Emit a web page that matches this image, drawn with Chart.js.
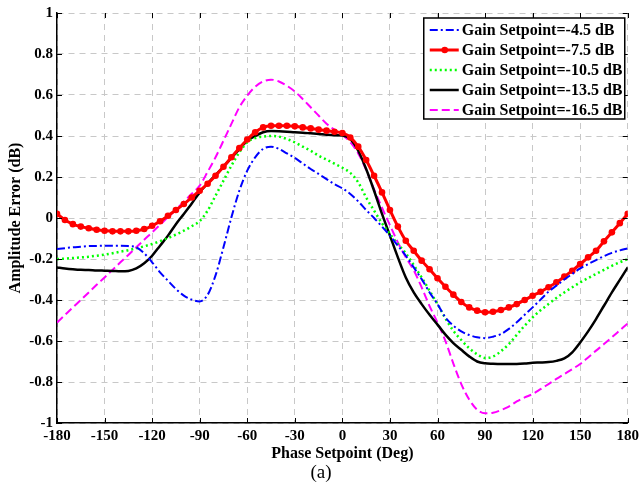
<!DOCTYPE html>
<html>
<head>
<meta charset="utf-8">
<script src="https://cdn.jsdelivr.net/npm/chart.js@4.4.1/dist/chart.umd.min.js"></script>
<style>
    html, body { margin: 0; padding: 0; background: #fff; }
</style>
</head>
<body>
<canvas id="phaseChart" width="643" height="489"></canvas>
<script>
// phase setpoints (deg), one sample every 5 deg
var phase = [-180, -175, -170, -165, -160, -155, -150, -145, -140, -135, -130, -125, -120, -115, -110, -105, -100, -95,
    -90, -85, -80, -75, -70, -65, -60, -55, -50, -45, -40, -35, -30, -25, -20, -15, -10, -5,
    0, 5, 10, 15, 20, 25, 30, 35, 40, 45, 50, 55, 60, 65, 70, 75, 80, 85,
    90, 95, 100, 105, 110, 115, 120, 125, 130, 135, 140, 145, 150, 155, 160, 165, 170, 175, 180];

// amplitude error (dB) per gain setpoint
var gain45 = [-0.151, -0.147, -0.143, -0.14, -0.137, -0.136, -0.135, -0.135, -0.135, -0.137, -0.143, -0.172, -0.216, -0.265, -0.306, -0.346, -0.379, -0.398,
    -0.407, -0.375, -0.28, -0.143, 0.003, 0.133, 0.231, 0.296, 0.337, 0.348, 0.337, 0.315, 0.293, 0.266, 0.239, 0.215, 0.19, 0.165,
    0.145, 0.117, 0.081, 0.039, 0.0, -0.042, -0.086, -0.135, -0.184, -0.241, -0.298, -0.363, -0.42, -0.485, -0.525, -0.553, -0.571, -0.582,
    -0.586, -0.579, -0.566, -0.541, -0.509, -0.472, -0.436, -0.398, -0.36, -0.33, -0.3, -0.273, -0.246, -0.225, -0.205, -0.186, -0.17, -0.158, -0.148];

var gain75 = [0.02, -0.01, -0.03, -0.042, -0.05, -0.057, -0.062, -0.065, -0.065, -0.065, -0.062, -0.054, -0.038, -0.016, 0.011, 0.039, 0.068, 0.1,
    0.133, 0.167, 0.206, 0.25, 0.296, 0.341, 0.383, 0.418, 0.442, 0.45, 0.45, 0.45, 0.447, 0.442, 0.437, 0.431, 0.426, 0.421,
    0.415, 0.393, 0.348, 0.283, 0.206, 0.125, 0.039, -0.042, -0.111, -0.16, -0.208, -0.25, -0.294, -0.335, -0.374, -0.41, -0.436, -0.452,
    -0.46, -0.457, -0.449, -0.436, -0.42, -0.4, -0.379, -0.36, -0.338, -0.314, -0.286, -0.257, -0.225, -0.192, -0.16, -0.114, -0.07, -0.025, 0.02];

var gain105 = [-0.2, -0.198, -0.195, -0.192, -0.189, -0.184, -0.179, -0.172, -0.164, -0.157, -0.148, -0.138, -0.127, -0.113, -0.098, -0.081, -0.062, -0.04,
    -0.015, 0.036, 0.109, 0.182, 0.255, 0.32, 0.369, 0.39, 0.397, 0.4, 0.397, 0.385, 0.369, 0.348, 0.328, 0.304, 0.285, 0.265,
    0.245, 0.22, 0.174, 0.1, 0.036, -0.026, -0.078, -0.127, -0.172, -0.23, -0.29, -0.355, -0.42, -0.49, -0.55, -0.595, -0.635, -0.665,
    -0.683, -0.676, -0.65, -0.615, -0.57, -0.525, -0.485, -0.45, -0.42, -0.39, -0.363, -0.338, -0.314, -0.293, -0.273, -0.253, -0.233, -0.216, -0.2];

var gain135 = [-0.241, -0.246, -0.25, -0.253, -0.254, -0.256, -0.257, -0.258, -0.26, -0.258, -0.246, -0.221, -0.184, -0.135, -0.086, -0.03, 0.02, 0.071,
    0.125, 0.169, 0.21, 0.25, 0.293, 0.335, 0.377, 0.4, 0.418, 0.424, 0.423, 0.421, 0.418, 0.416, 0.413, 0.41, 0.406, 0.404,
    0.403, 0.385, 0.328, 0.239, 0.133, 0.02, -0.086, -0.192, -0.29, -0.363, -0.42, -0.472, -0.52, -0.569, -0.61, -0.643, -0.675, -0.7,
    -0.709, -0.711, -0.712, -0.712, -0.712, -0.71, -0.706, -0.705, -0.703, -0.697, -0.685, -0.655, -0.607, -0.553, -0.493, -0.428, -0.363, -0.302, -0.241];

var gain165 = [-0.51, -0.473, -0.436, -0.4, -0.363, -0.326, -0.29, -0.253, -0.216, -0.18, -0.143, -0.106, -0.07, -0.033, 0.004, 0.041, 0.08, 0.118,
    0.158, 0.225, 0.296, 0.377, 0.459, 0.54, 0.597, 0.64, 0.666, 0.675, 0.666, 0.645, 0.617, 0.58, 0.54, 0.5, 0.46, 0.43,
    0.405, 0.37, 0.315, 0.235, 0.14, 0.05, -0.035, -0.119, -0.192, -0.255, -0.338, -0.43, -0.51, -0.6, -0.71, -0.81, -0.885, -0.935,
    -0.953, -0.95, -0.937, -0.92, -0.895, -0.875, -0.859, -0.835, -0.81, -0.785, -0.761, -0.737, -0.712, -0.68, -0.647, -0.615, -0.582, -0.548, -0.514];

var seriesLabels = ['Gain Setpoint=-4.5 dB', 'Gain Setpoint=-7.5 dB', 'Gain Setpoint=-10.5 dB', 'Gain Setpoint=-13.5 dB', 'Gain Setpoint=-16.5 dB'];
var xTicks = [-180, -150, -120, -90, -60, -30, 0, 30, 60, 90, 120, 150, 180];
var yTicks = [-1, -0.8, -0.6, -0.4, -0.2, 0, 0.2, 0.4, 0.6, 0.8, 1];

var serif = '"Liberation Serif", "Times New Roman", serif';

function toPoints(values) {
    return phase.map(function (p, i) { return { x: p, y: values[i] }; });
}

// matlab style: legend box in the corner, inward ticks, caption under the axis
var extras = {
    id: 'extras',
    afterDraw: function (chart) {
        var ctx = chart.ctx;
        var a = chart.chartArea;
        var xs = chart.scales.x, ys = chart.scales.y;

        ctx.save();
        ctx.strokeStyle = '#000';
        ctx.lineWidth = 1;
        ctx.setLineDash([]);
        ctx.beginPath();
        xTicks.forEach(function (t) {
            var px = Math.round(xs.getPixelForValue(t)) + 0.5;
            ctx.moveTo(px, a.bottom); ctx.lineTo(px, a.bottom - 5);
            ctx.moveTo(px, a.top); ctx.lineTo(px, a.top + 5);
        });
        yTicks.forEach(function (t) {
            var py = Math.round(ys.getPixelForValue(t)) + 0.5;
            ctx.moveTo(a.left, py); ctx.lineTo(a.left + 5, py);
            ctx.moveTo(a.right, py); ctx.lineTo(a.right - 5, py);
        });
        ctx.stroke();

        // legend
        var x0 = a.right - 204, y0 = a.top + 5, w = 201, h = 101;
        ctx.fillStyle = '#fff';
        ctx.fillRect(x0, y0, w, h);
        ctx.lineWidth = 1.5;
        ctx.strokeRect(x0, y0, w, h);
        ctx.font = 'bold 16px ' + serif;
        ctx.textBaseline = 'middle';
        chart.data.datasets.forEach(function (ds, i) {
            var ly = y0 + 12 + i * 20;
            ctx.strokeStyle = ds.borderColor;
            ctx.lineWidth = ds.borderWidth;
            ctx.setLineDash(ds.borderDash || []);
            ctx.beginPath();
            ctx.moveTo(x0 + 6, ly);
            ctx.lineTo(x0 + 35, ly);
            ctx.stroke();
            ctx.setLineDash([]);
            if (ds.pointRadius > 0) {
                ctx.fillStyle = ds.borderColor;
                ctx.beginPath();
                ctx.arc(x0 + 21, ly, ds.pointRadius, 0, Math.PI * 2);
                ctx.fill();
            }
            ctx.fillStyle = '#000';
            ctx.fillText(ds.label, x0 + 38, ly + 1);
        });

        ctx.font = '19px ' + serif;
        ctx.textAlign = 'center';
        ctx.fillStyle = '#000';
        ctx.fillText('(a)', 321, 473);
        ctx.restore();
    }
};

var ctx = document.getElementById('phaseChart').getContext('2d');

var phaseChart = new Chart(ctx, {
    type: 'line',
    data: {
        datasets: [{
            label: seriesLabels[0],
            data: toPoints(gain45),
            borderColor: '#0000ff',
            borderWidth: 2,
            borderDash: [8, 3, 2, 3],
            pointRadius: 0
        }, {
            label: seriesLabels[1],
            data: toPoints(gain75),
            borderColor: '#ff0000',
            backgroundColor: '#ff0000',
            borderWidth: 3,
            pointRadius: 3.3,
            pointBorderWidth: 0
        }, {
            label: seriesLabels[2],
            data: toPoints(gain105),
            borderColor: '#00ff00',
            borderWidth: 2.5,
            borderDash: [2, 3],
            pointRadius: 0
        }, {
            label: seriesLabels[3],
            data: toPoints(gain135),
            borderColor: '#000000',
            borderWidth: 2.5,
            pointRadius: 0
        }, {
            label: seriesLabels[4],
            data: toPoints(gain165),
            borderColor: '#ff00ff',
            borderWidth: 2,
            borderDash: [8, 4],
            pointRadius: 0
        }]
    },
    options: {
        responsive: false,
        animation: false,
        devicePixelRatio: 1,
        cubicInterpolationMode: 'monotone',
        layout: { padding: { top: 11, right: 13, left: 0, bottom: 0 } },
        plugins: {
            legend: { display: false },
            tooltip: { enabled: false }
        },
        scales: {
            x: {
                type: 'linear',
                min: -180,
                max: 180,
                afterFit: function (scale) { scale.height = 66; },
                afterBuildTicks: function (scale) {
                    scale.ticks = xTicks.map(function (v) { return { value: v }; });
                },
                ticks: {
                    color: '#000',
                    padding: 4,
                    maxRotation: 0,
                    font: { family: serif, size: 15, weight: 'bold' }
                },
                grid: { color: '#c8c8c8', lineWidth: 1, drawTicks: false },
                border: { display: true, color: '#000', width: 1.5, dash: [6, 5] },
                title: {
                    display: true,
                    text: 'Phase Setpoint (Deg)',
                    color: '#000',
                    font: { family: serif, size: 16, weight: 'bold' },
                    padding: { top: 0, bottom: 26 }
                }
            },
            y: {
                type: 'linear',
                min: -1,
                max: 1,
                afterFit: function (scale) { scale.width = 57; },
                afterBuildTicks: function (scale) {
                    scale.ticks = yTicks.map(function (v) { return { value: v }; });
                },
                ticks: {
                    color: '#000',
                    padding: 4,
                    font: { family: serif, size: 15, weight: 'bold' },
                    callback: function (v) { return String(Math.round(v * 10) / 10); }
                },
                grid: { color: '#c8c8c8', lineWidth: 1, drawTicks: false },
                border: { display: true, color: '#000', width: 1.5, dash: [6, 5] },
                title: {
                    display: true,
                    text: 'Amplitude Error (dB)',
                    color: '#000',
                    font: { family: serif, size: 16, weight: 'bold' },
                    padding: { top: 6, bottom: 0 }
                }
            }
        }
    },
    plugins: [extras]
});
</script>
</body>
</html>
